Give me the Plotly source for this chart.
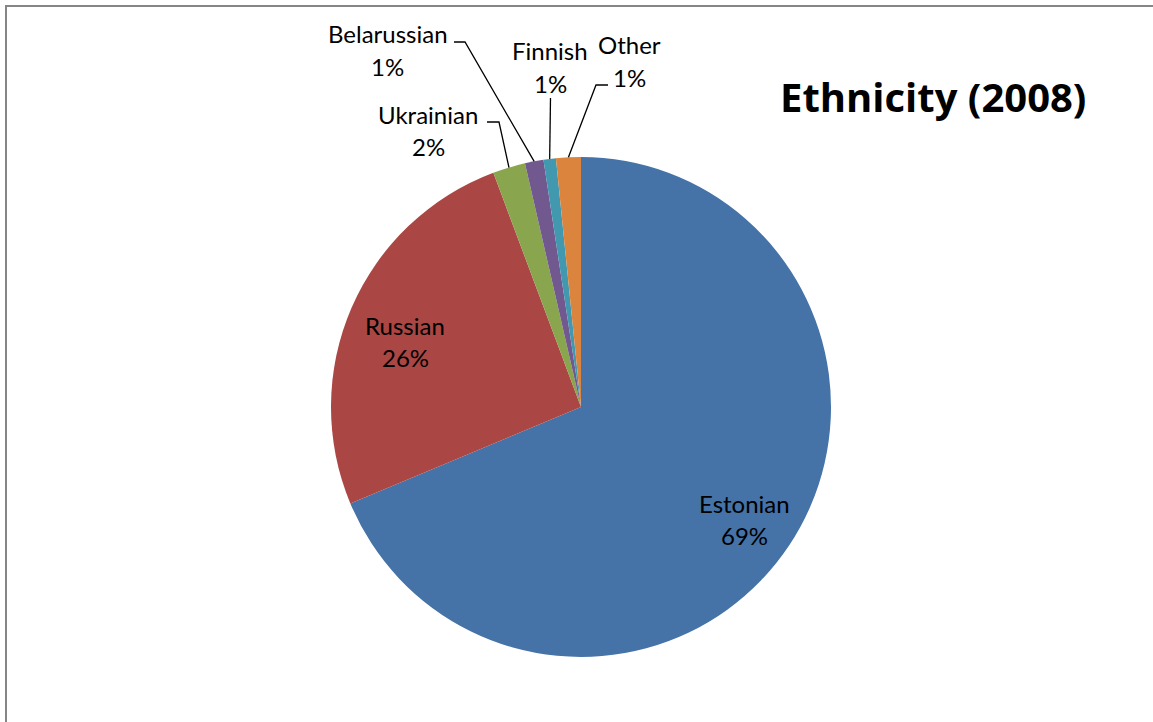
import math
import plotly.graph_objects as go

# ---- data ----
categories = ["Estonian", "Russian", "Ukrainian", "Belarussian", "Finnish", "Other"]
shares = [68.7, 25.6, 2.1, 1.2, 0.8, 1.6]
pct_labels = ["69%", "26%", "2%", "1%", "1%", "1%"]
colors = ["#4572A7", "#AA4643", "#89A54E", "#71588F", "#4198AF", "#DB843D"]

W, H = 1153, 722
CX, CY, R = 581, 407, 250  # pie centre / radius in pixels

FONT = "Lato, 'Open Sans', sans-serif"
TFONT = "'Open Sans', Lato, sans-serif"
LBL = 24

def px(x):
    return x / W

def py(y):
    return 1 - y / H

fig = go.Figure(go.Pie(
    labels=categories,
    values=shares,
    sort=False,
    direction="clockwise",
    rotation=0,
    marker=dict(colors=colors, line=dict(width=0)),
    textinfo="none",
    hoverinfo="label+percent",
    domain=dict(x=[px(CX - R), px(CX + R)], y=[py(CY + R), py(CY - R)]),
    showlegend=False,
))

# label placement (pixel positions of text centres: x, line1 y, line2 y)
label_pos = {
    "Estonian": (744, 503, 535),
    "Russian": (405, 325, 357),
    "Ukrainian": (428, 114, 146),
    "Belarussian": (388, 33, 66),
    "Finnish": (550, 51, 83),
    "Other": (629, 45, 78),
}
# leader line elbows (pixels), last point is computed on the pie edge
leader_elbows = {
    "Ukrainian": [(487, 122), (499, 122)],
    "Belarussian": [(454, 42), (465, 42)],
    "Finnish": [(550.5, 98)],
    "Other": [(608, 85), (596, 85)],
}

annotations = []
for name, pct in zip(categories, pct_labels):
    x, y1, y2 = label_pos[name]
    for txt, yy in ((name, y1), (pct, y2)):
        annotations.append(dict(
            x=px(x), y=py(yy), xref="paper", yref="paper",
            text=txt, showarrow=False, xanchor="center", yanchor="middle",
            font=dict(family=FONT, size=LBL, color="#000000"),
        ))

annotations.append(dict(
    x=px(933), y=py(96), xref="paper", yref="paper",
    text="<b>Ethnicity (2008)</b>", showarrow=False,
    xanchor="center", yanchor="middle",
    font=dict(family=TFONT, size=40, color="#000000"),
))

total = sum(shares)
shapes = []
cum = 0.0
for name, v in zip(categories, shares):
    mid = (cum + v / 2) / total * 2 * math.pi
    cum += v
    if name not in leader_elbows:
        continue
    ex = CX + R * math.sin(mid)
    ey = CY - R * math.cos(mid)
    pts = leader_elbows[name] + [(ex, ey)]
    path = "M " + " L ".join(f"{px(a):.5f},{py(b):.5f}" for a, b in pts)
    shapes.append(dict(type="path", xref="paper", yref="paper", path=path,
                       line=dict(color="#000000", width=1.3)))

# chart area border
shapes.append(dict(type="rect", xref="paper", yref="paper",
                   x0=px(6), y0=py(6), x1=1.05, y1=-0.05,
                   line=dict(color="#868686", width=2), fillcolor="rgba(0,0,0,0)"))

fig.update_layout(
    width=W, height=H,
    margin=dict(l=0, r=0, t=0, b=0),
    paper_bgcolor="white",
    plot_bgcolor="white",
    annotations=annotations,
    shapes=shapes,
)

fig.write_html("out.html",
               config={"displayModeBar": False},
               post_script="document.body.style.margin='0';document.body.style.overflow='hidden';")
